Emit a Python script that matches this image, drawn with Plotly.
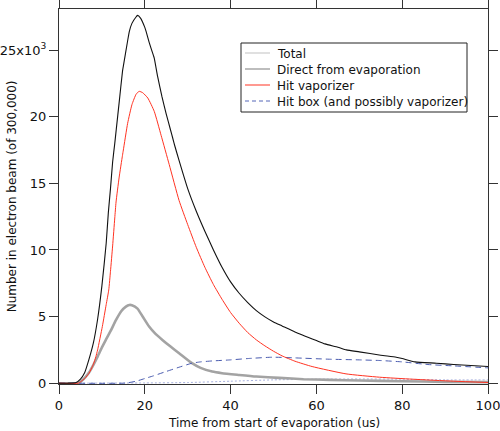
import plotly.graph_objects as go

# ---- data ----
total_x = [0, 2, 4, 5, 6, 7, 8, 9, 10, 11, 11.5, 12, 12.5, 13, 13.7, 14, 14.8, 15, 16, 16.4, 17, 18, 18.3, 19, 20,
           20.3, 21, 22, 22.2, 23, 24, 25, 26, 26.5, 27, 28, 30, 32, 34, 36, 38, 40, 42, 44, 46,
           48, 50, 52, 55, 60, 62, 65, 67, 70, 75, 78.6, 80, 83, 88, 92, 100]
total_y = [0, 0, 0.05, 0.3, 0.8, 1.8, 3.0, 4.8, 7.3, 10.5, 12.8, 14.6, 16.6, 18.0, 20.1, 21.0, 23.4, 23.8, 25.7,
           26.4, 27.0, 27.5, 27.6, 27.4, 26.7, 26.4, 25.6, 24.6, 24.4, 23.0, 21.5, 20.2, 19.0, 18.4, 17.8, 16.7,
           14.6, 12.9, 11.4, 10.0, 8.7, 7.6, 6.75, 6.05, 5.45, 4.98, 4.6, 4.3, 3.85, 3.2, 2.95, 2.7,
           2.5, 2.35, 2.1, 1.95, 1.85, 1.6, 1.5, 1.4, 1.25]

direct_x = [0, 4.5, 5, 6, 7, 7.8, 9, 10.1, 11, 12, 13.3, 14.5, 15.6, 16.4, 17, 18.3, 19.5, 21, 22.5, 24.1, 26, 28,
            31, 33, 35.7, 38, 42, 46, 51.4, 57, 63, 70, 80, 90, 100]
direct_y = [0, 0, 0.1, 0.4, 0.8, 1.25, 2.0, 2.75, 3.3, 3.9, 4.75, 5.4, 5.75, 5.87, 5.85, 5.6, 5.0, 4.25, 3.7,
            3.25, 2.75, 2.25, 1.5, 1.15, 0.87, 0.75, 0.62, 0.5, 0.4, 0.3, 0.25, 0.2, 0.15, 0.1, 0.08]

vapor_x = [0, 4.5, 5, 6, 7, 8, 8.6, 9, 10.1, 11, 11.6, 12, 12.5, 13, 13.3, 14, 14.8, 15, 16, 17, 18, 18.7, 19.5,
           20.7, 22.2, 23.8, 25.7, 28, 30, 32, 34, 36, 38, 40, 42, 44, 46, 48, 50, 52, 55, 59, 66.9, 74.7, 82.4,
           92, 100]
vapor_y = [0, 0, 0.1, 0.35, 0.75, 1.4, 2.0, 2.5, 4.25, 5.9, 7.0, 8.4, 10.3, 12.4, 13.6, 15.4, 17.1, 17.5, 19.5,
           20.9, 21.7, 21.9, 21.8, 21.4, 20.4, 18.6, 16.4, 13.7, 11.9, 10.2, 8.7, 7.4, 6.3, 5.3, 4.5, 3.8, 3.25,
           2.8, 2.4, 2.05, 1.65, 1.25, 0.7, 0.45, 0.3, 0.15, 0.05]

box_x = [0, 15, 16, 18, 20, 22, 24.9, 28, 31, 33, 35.7, 40, 44, 49.8, 55, 63, 70, 75, 80, 86, 92, 100]
box_y = [0, 0, 0.03, 0.15, 0.35, 0.55, 0.87, 1.2, 1.5, 1.6, 1.67, 1.75, 1.85, 1.95, 1.9, 1.8, 1.75, 1.7, 1.6,
         1.4, 1.3, 1.15]

faint_x = [0, 20, 30, 40, 50, 60, 70, 80, 90, 100]
faint_y = [0, 0.02, 0.05, 0.15, 0.25, 0.3, 0.32, 0.3, 0.25, 0.25]

names = ["Total", "Direct from evaporation", "Hit vaporizer", "Hit box (and possibly vaporizer)"]

y_tickvals = [0, 5, 10, 15, 20, 25]
y_ticktext = ["0", "5", "10", "15", "20", "25x10<sup>3</sup>"]
x_tickvals = [0, 20, 40, 60, 80, 100]

x_title = "Time from start of evaporation (us)"
y_title = "Number in electron beam (of 300,000)"

FONT = "DejaVu Sans"

fig = go.Figure()

sm = 0.5
fig.add_trace(go.Scatter(x=faint_x, y=faint_y, mode="lines",
                         line=dict(color="rgba(110,125,200,0.6)", width=1, dash="2px,2px", shape="spline",
                                   smoothing=sm),
                         showlegend=False, name="faint"))
fig.add_trace(go.Scatter(x=direct_x, y=direct_y, mode="lines", name=names[1],
                         line=dict(color="#a3a3a3", width=2.6, shape="spline", smoothing=sm), showlegend=False))
fig.add_trace(go.Scatter(x=box_x, y=box_y, mode="lines", name=names[3],
                         line=dict(color="#4a5cb0", width=1, dash="6px,4px", shape="spline", smoothing=sm),
                         showlegend=False))
fig.add_trace(go.Scatter(x=vapor_x, y=vapor_y, mode="lines", name=names[2],
                         line=dict(color="#ff3322", width=1, shape="spline", smoothing=sm), showlegend=False))
fig.add_trace(go.Scatter(x=total_x, y=total_y, mode="lines", name=names[0],
                         line=dict(color="#111111", width=1.1, shape="spline", smoothing=sm), showlegend=False))

# ---- custom legend (box, sample lines, labels) in paper coordinates ----
L, R, T, B, W, H = 59, 12, 9, 47, 500, 431
pw, ph = W - L - R, H - T - B


def px_x(p):
    return (p - L) / pw


def px_y(p):
    return (H - B - p) / ph


# (colour, thickness in px, dash)
leg_styles = [("#c0c0c0", 1, None), ("#bdbdbd", 2, None), ("#ff3322", 1, None), ("#5566b8", 1, "4px,3px")]
shapes = [dict(type="rect", xref="paper", yref="paper", x0=px_x(241), x1=px_x(467), y0=px_y(112), y1=px_y(43),
               line=dict(color="#222222", width=1), fillcolor="white", layer="above")]
annotations = []
for i, (n, (col, thick, dash)) in enumerate(zip(names, leg_styles)):
    row = 53 + 16 * i
    if dash is None:
        shapes.append(dict(type="rect", xref="paper", yref="paper", x0=px_x(245), x1=px_x(270),
                           y0=px_y(row + thick / 2), y1=px_y(row - thick / 2),
                           line=dict(width=0), fillcolor=col, layer="above"))
    else:
        shapes.append(dict(type="line", xref="paper", yref="paper", x0=px_x(245), x1=px_x(270),
                           y0=px_y(row), y1=px_y(row), line=dict(color=col, width=thick, dash=dash),
                           layer="above"))
    annotations.append(dict(text=n, xref="paper", yref="paper", x=px_x(275), y=px_y(row + 1), xanchor="left",
                            yanchor="middle", showarrow=False, font=dict(family=FONT, size=12, color="#111111")))

annotations += [
    dict(text=x_title, xref="paper", yref="paper", x=0.502, y=-0.104, xanchor="center", yanchor="middle",
         showarrow=False, font=dict(family=FONT, size=12, color="#111111")),
    dict(text=y_title, xref="paper", yref="paper", x=-0.11, y=0.5, xanchor="center", yanchor="middle",
         textangle=-90, showarrow=False, font=dict(family=FONT, size=12, color="#111111")),
]

axis_common = dict(showline=True, linecolor="#333333", linewidth=1, mirror="ticks", ticks="outside",
                   ticklen=9, tickcolor="#333333", tickwidth=1, showgrid=False, zeroline=False,
                   automargin=False, ticklabeloverflow="allow",
                   tickfont=dict(family=FONT, size=13, color="#111111"))

fig.update_layout(
    width=W, height=H,
    margin=dict(l=L, r=R, t=T, b=B, autoexpand=False),
    paper_bgcolor="white", plot_bgcolor="white",
    font=dict(family=FONT, size=12, color="#111111"),
    xaxis=dict(range=[0, 100], tickvals=x_tickvals, **axis_common),
    yaxis=dict(range=[-0.06, 28.08], tickvals=y_tickvals, ticktext=y_ticktext, **axis_common),
    showlegend=False,
    shapes=shapes,
    annotations=annotations,
)

fig.write_html("out.html", config={"displayModeBar": False},
               post_script="document.body.style.margin='0px';document.body.style.padding='0px';")
